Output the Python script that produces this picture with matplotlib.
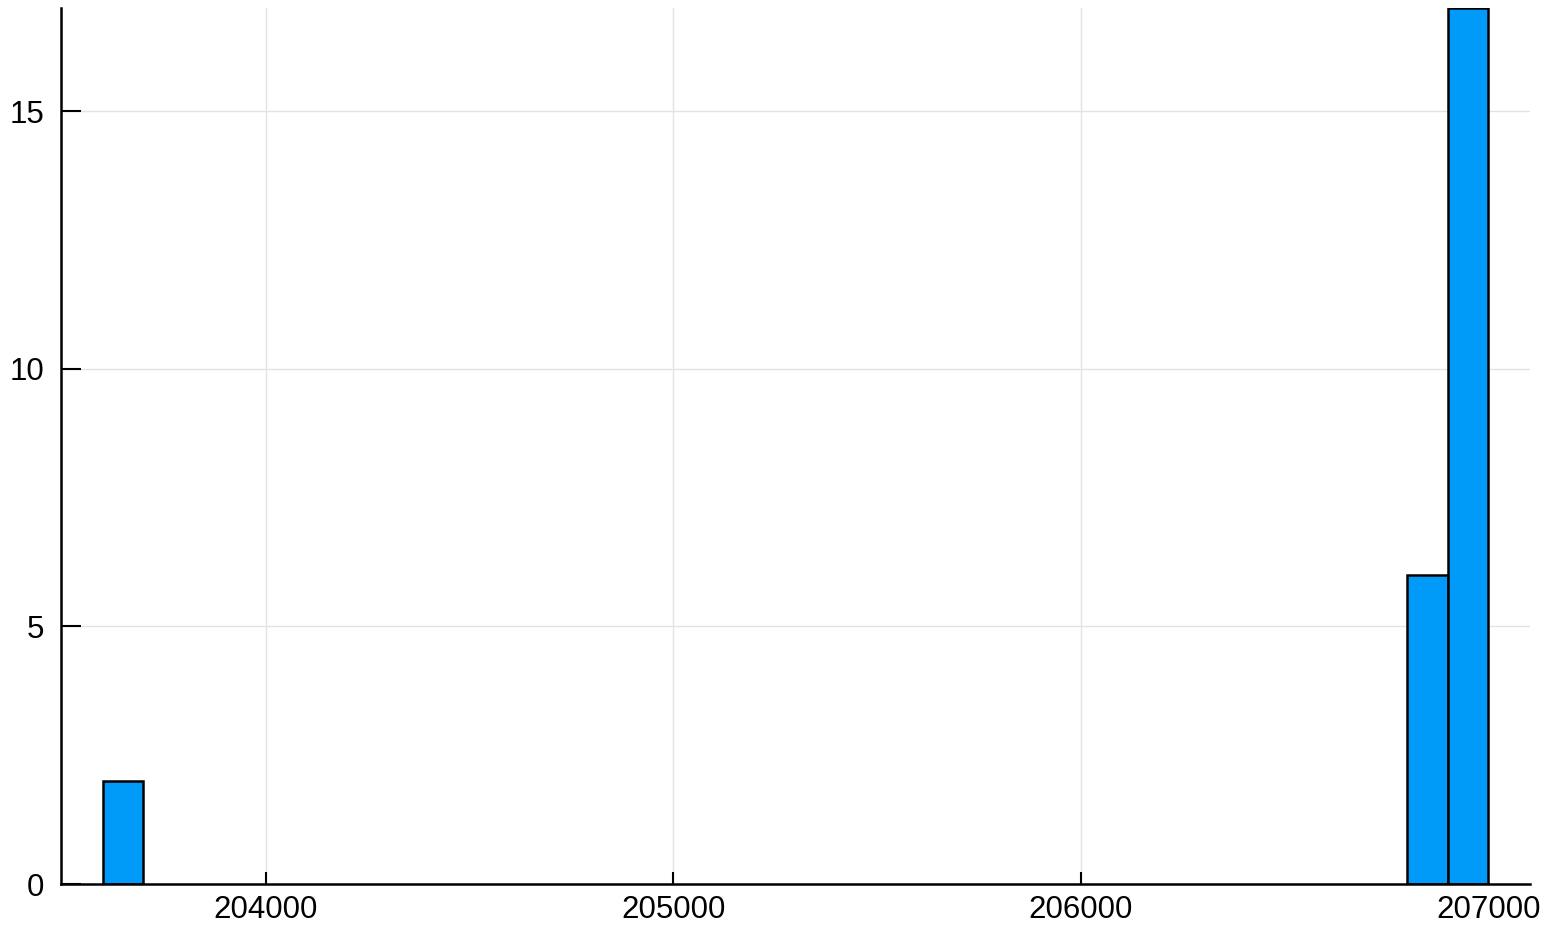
import matplotlib.pyplot as plt

# histogram bins (left edges) and counts
bin_left = [203600, 206800, 206900]
bin_width = 100
counts = [2, 6, 17]
xticks = [204000, 205000, 206000, 207000]
yticks = [0, 5, 10, 15]

plt.rcParams['font.family'] = ['Liberation Sans', 'DejaVu Sans']

fig = plt.figure(figsize=(15.47, 9.27), dpi=100)
ax = fig.add_axes([61 / 1547, (927 - 884) / 927, (1530 - 61) / 1547, (884 - 8) / 927])

ax.bar(bin_left, counts, width=bin_width, align='edge', color='#009af9',
       edgecolor='black', linewidth=1.8, zorder=3)

ax.set_xlim(203498, 207102)
ax.set_ylim(0, 17)
ax.set_xticks(xticks)
ax.set_xticklabels([str(t) for t in xticks])
ax.set_yticks(yticks)

ax.grid(True, color='#e3e3e3', linewidth=1.0, zorder=0)
for s in ['top', 'right']:
    ax.spines[s].set_visible(False)
for s in ['left', 'bottom']:
    ax.spines[s].set_linewidth(1.8)
    ax.spines[s].set_zorder(4)

ax.tick_params(axis='x', direction='in', length=9, width=1.5, labelsize=22.5, pad=8)
ax.tick_params(axis='y', direction='in', length=14.5, width=1.5, labelsize=22.5, pad=12)

fig.savefig('out.png', dpi=100)
